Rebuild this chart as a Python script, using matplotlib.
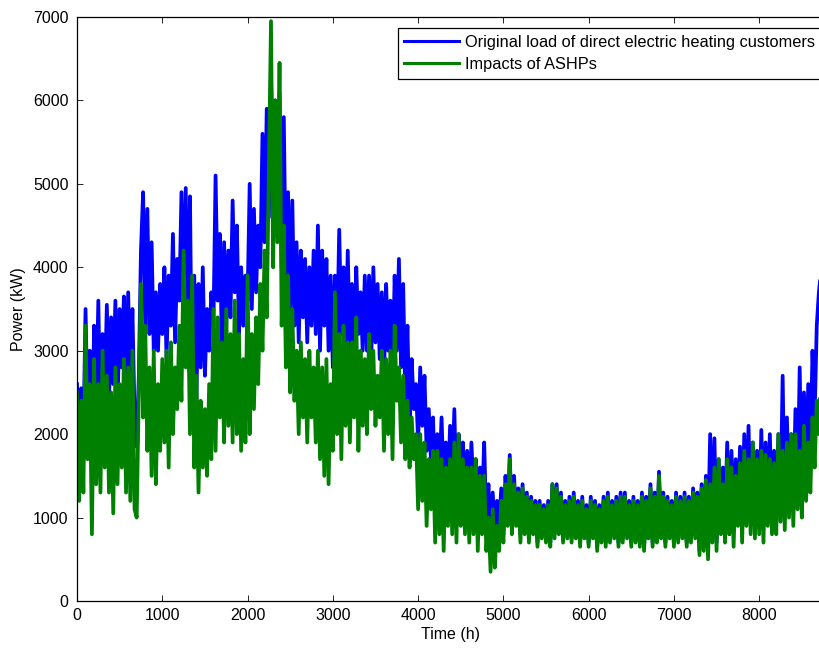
import numpy as np
import matplotlib
matplotlib.use("Agg")
import matplotlib.pyplot as plt

plt.rcParams['font.family'] = ['Liberation Sans', 'DejaVu Sans']

# Hourly samples every 25 h over the year (kW), one row per 200 h
step_h = 25
original_load = [
    2600, 2100, 2550, 1900, 3500, 2200, 3000, 1600,
    3300, 2300, 3600, 2100, 3200, 2500, 3550, 2400,
    3400, 2600, 3600, 2300, 3500, 2800, 3650, 2500,
    3700, 2600, 3500, 2200, 1850, 2700, 4200, 4900,
    3300, 4700, 3200, 4300, 3000, 3700, 3000, 3800,
    3200, 4000, 2900, 3900, 3300, 4400, 3100, 4100,
    3600, 4900, 3400, 4950, 3000, 4850, 2300, 3900,
    2400, 3800, 2800, 4000, 2700, 3500, 3000, 3700,
    3300, 5100, 3600, 4400, 3000, 4300, 3300, 4200,
    3400, 4800, 3700, 4500, 3200, 4000, 3300, 3900,
    3600, 5000, 3500, 4700, 3700, 4500, 4000, 5600,
    4300, 5900, 4600, 6300, 5000, 6000, 4500, 6100,
    4000, 5800, 3800, 4900, 3500, 4800, 3300, 4300,
    3100, 4200, 3400, 4100, 3100, 4000, 3300, 4200,
    3200, 4500, 3000, 4200, 3300, 4100, 3000, 3900,
    2800, 3900, 3100, 4450, 3200, 4000, 2900, 4200,
    3000, 3800, 2900, 4000, 3200, 3700, 3000, 3900,
    3000, 3900, 2900, 4000, 3100, 3800, 2900, 3700,
    2700, 3800, 3000, 3600, 2600, 3900, 3000, 4100,
    2800, 3800, 2400, 3300, 2100, 2900, 2300, 2600,
    1900, 2800, 2100, 2700, 1800, 2300, 1700, 2200,
    1300, 2000, 1500, 2200, 1400, 1900, 1300, 2100,
    1400, 2300, 1200, 2000, 1500, 1900, 1200, 1800,
    1200, 1900, 1300, 1700, 1100, 1600, 1150, 1900,
    900, 1400, 700, 1300, 800, 1200, 900, 1350,
    800, 1500, 1000, 1750, 900, 1500, 1000, 1350,
    800, 1400, 900, 1300, 800, 1250, 850, 1200,
    700, 1200, 800, 1150, 750, 1200, 700, 1400,
    800, 1400, 850, 1300, 750, 1200, 800, 1250,
    750, 1300, 800, 1200, 700, 1250, 800, 1150,
    700, 1250, 800, 1200, 650, 1150, 750, 1250,
    700, 1300, 750, 1200, 800, 1250, 700, 1300,
    750, 1300, 800, 1200, 700, 1250, 750, 1200,
    700, 1300, 650, 1250, 800, 1400, 700, 1300,
    750, 1550, 800, 1300, 700, 1250, 800, 1200,
    700, 1300, 750, 1250, 800, 1300, 700, 1250,
    750, 1350, 800, 1300, 600, 1400, 650, 1500,
    800, 2000, 900, 1950, 700, 1700, 900, 1600,
    1000, 1900, 800, 1800, 900, 1700, 1000, 1850,
    900, 2000, 1100, 2100, 1000, 1900, 950, 1800,
    1000, 2050, 900, 1900, 1100, 2000, 1000, 1800,
    950, 2000, 1100, 2700, 1000, 2200, 1200, 2000,
    1100, 2300, 1300, 2800, 1200, 2500, 1500, 2600,
    1700, 3000, 2200, 3300, 3700, 3950, 3950,
]
with_ashp = [
    2500, 1200, 2400, 1300, 3300, 1700, 2600, 800,
    2900, 1400, 2600, 1300, 3000, 1600, 2700, 1300,
    2500, 1050, 2800, 1400, 2600, 1600, 2900, 1300,
    2800, 1200, 3000, 1100, 1000, 2500, 3800, 2200,
    3300, 1800, 2800, 1500, 3000, 1400, 2600, 1800,
    2900, 1900, 3000, 1600, 3100, 2000, 2800, 2300,
    3300, 2400, 4200, 2800, 3600, 2000, 3900, 1600,
    2700, 1300, 2400, 1600, 2300, 1500, 2600, 1700,
    3500, 1800, 3400, 2200, 3100, 1900, 3500, 2100,
    3200, 1900, 3600, 2000, 3200, 1800, 2900, 1900,
    3900, 2000, 3200, 2300, 3400, 2600, 3800, 3000,
    4200, 3400, 5200, 6950, 4000, 6000, 4300, 6450,
    3300, 4500, 2800, 3900, 2500, 3500, 2400, 3000,
    2000, 3100, 2200, 2900, 1900, 3000, 2200, 2800,
    1900, 3000, 1700, 2800, 1500, 2900, 1400, 2600,
    1800, 3700, 2000, 3200, 1700, 3300, 2100, 3100,
    1900, 3100, 2200, 3400, 1800, 3000, 2100, 2900,
    2000, 3200, 2300, 3000, 2100, 2700, 2200, 3000,
    1800, 2900, 2000, 3000, 1700, 3300, 2400, 2800,
    1900, 2700, 1700, 2400, 1600, 2200, 1700, 2000,
    1100, 2000, 1200, 1900, 900, 1700, 1100, 1800,
    700, 1800, 800, 1700, 600, 1600, 900, 1700,
    800, 1900, 700, 2000, 900, 1700, 800, 1600,
    700, 1600, 800, 1700, 600, 1500, 800, 1500,
    600, 1000, 350, 1100, 400, 900, 600, 1200,
    700, 1400, 900, 1700, 800, 1400, 900, 1300,
    700, 1350, 800, 1250, 700, 1200, 800, 1150,
    650, 1150, 750, 1100, 700, 1150, 650, 1400,
    750, 1350, 800, 1250, 700, 1150, 750, 1200,
    700, 1250, 750, 1150, 650, 1200, 750, 1100,
    650, 1200, 750, 1150, 600, 1100, 700, 1200,
    650, 1250, 700, 1150, 750, 1200, 650, 1250,
    700, 1250, 750, 1150, 650, 1200, 700, 1150,
    650, 1250, 600, 1200, 750, 1350, 650, 1250,
    700, 1500, 750, 1250, 650, 1200, 750, 1150,
    650, 1250, 700, 1200, 750, 1250, 650, 1200,
    700, 1300, 750, 1250, 550, 1350, 600, 1450,
    500, 1400, 700, 1600, 600, 1700, 800, 1400,
    700, 1700, 800, 1600, 650, 1500, 900, 1650,
    700, 1800, 900, 1700, 800, 1900, 750, 1700,
    800, 1800, 700, 1750, 900, 1700, 800, 1650,
    800, 2000, 950, 1800, 850, 1900, 1000, 2000,
    900, 2000, 1100, 1800, 1000, 2100, 1200, 1900,
    1300, 2200, 1600, 2400, 2000, 2800, 2600,
]
hours = np.arange(len(original_load)) * step_h

x_ticks = [0, 1000, 2000, 3000, 4000, 5000, 6000, 7000, 8000]
y_ticks = [0, 1000, 2000, 3000, 4000, 5000, 6000, 7000]

W, H = 819, 648
fig = plt.figure(figsize=(W / 100, H / 100), dpi=100)
ax = fig.add_axes([77 / W, 47 / H, 747 / W, 584 / H])

ax.plot(hours, original_load, color=(0, 0, 1), lw=2.7,
        label='Original load of direct electric heating customers')
ax.plot(hours, with_ashp, color=(0, 0.5, 0), lw=2.7,
        label='Impacts of ASHPs')

ax.set_xlim(0, 8760)
ax.set_ylim(0, 7000)
ax.set_xticks(x_ticks)
ax.set_yticks(y_ticks)
ax.tick_params(direction='in', length=4, width=0.6, top=True, right=False,
               labelsize=11.5)
ax.tick_params(axis='x', pad=5)
ax.tick_params(axis='y', pad=6)
for sp in ax.spines.values():
    sp.set_linewidth(0.9)

ax.set_xlabel('Time (h)', fontsize=11.5, labelpad=3)
ax.set_ylabel('Power (kW)', fontsize=11.5, labelpad=5)

leg = ax.legend(loc='upper right', bbox_to_anchor=(822 / W, 1 - 28 / H),
                bbox_transform=fig.transFigure, borderaxespad=0,
                fontsize=11.8, handlelength=3.3, fancybox=False,
                framealpha=1, edgecolor='black', borderpad=0.42,
                labelspacing=0.42, handletextpad=0.4)
leg.get_frame().set_linewidth(0.9)
for line in leg.get_lines():
    line.set_linewidth(2.2)

fig.savefig('out.png', dpi=100)
